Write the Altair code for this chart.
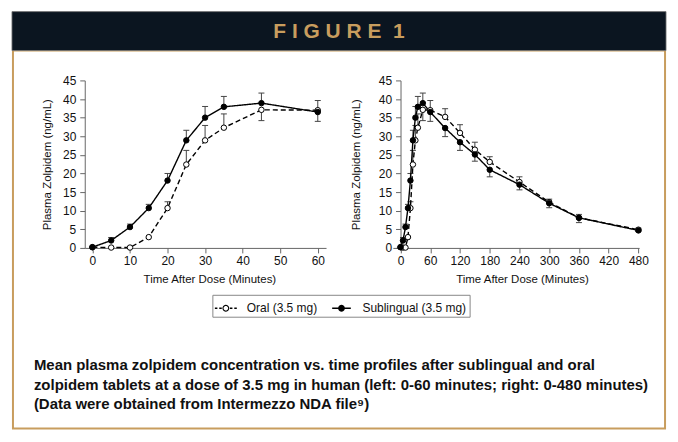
import math
import altair as alt
import pandas as pd

# ---------------- data ----------------
series_names = ["Oral (3.5 mg)", "Sublingual (3.5 mg)"]
times = [0, 5, 10, 15, 20, 25, 30, 35, 45, 60, 90, 120, 150, 180, 240, 300, 360, 480]
oral_mean = [0.2, 0.1, 0.1, 2.9, 10.7, 22.4, 28.9, 32.3, 37.1, 37.0, 35.2, 30.9, 26.4, 23.1, 17.7, 12.3, 8.1, 4.9]
oral_bar_end = [0.2, 0.1, 0.1, 2.9, 12.4, 26.2, 32.9, 36.0, 34.2, 34.0, 37.4, 33.1, 28.4, 24.5, 19.1, 13.1, 9.0, 5.3]
subl_mean = [0.2, 2.0, 5.6, 10.7, 18.1, 28.9, 35.0, 37.9, 38.9, 36.5, 32.2, 28.4, 25.1, 21.0, 17.0, 12.0, 8.1, 4.7]
subl_bar_end = [0.2, 2.8, 6.4, 11.7, 20.0, 31.6, 38.0, 40.7, 41.6, 39.6, 29.9, 26.2, 23.3, 19.1, 15.6, 10.8, 6.8, 4.4]

left_x_ticks = [0, 10, 20, 30, 40, 50, 60]
right_x_ticks = [0, 60, 120, 180, 240, 300, 360, 420, 480]
y_ticks = [0, 5, 10, 15, 20, 25, 30, 35, 40, 45]

x_title = "Time After Dose (Minutes)"
y_title = "Plasma Zolpidem (ng/mL)"
header_text = "F I G U R E \u00a01"
caption_lines = [
    "Mean plasma zolpidem concentration vs. time profiles after sublingual and oral",
    "zolpidem tablets at a dose of 3.5 mg in human (left: 0-60 minutes; right: 0-480 minutes)",
    "(Data were obtained from Intermezzo NDA file\u2079)",
]

rows = []
for name, means, ends in [(series_names[0], oral_mean, oral_bar_end),
                          (series_names[1], subl_mean, subl_bar_end)]:
    for t, m, e in zip(times, means, ends):
        rows.append({"series": name, "series_fill": name, "time": t, "conc": m, "bar_end": e})
df = pd.DataFrame(rows)
df_left = df[df["time"] <= 60].reset_index(drop=True)

# ---------------- styling ----------------
AX_FONT = "Liberation Sans"
CAP_FONT = "Liberation Sans"
GOLD = "#c89d5e"
NAVY = "#0b1520"
ERR = "#444444"


def f(v):
    return f"{v:.4f}"


def seg(a, b, h=0.06):
    return f"M{f(a)},{f(-h)}L{f(b)},{f(-h)}L{f(b)},{f(h)}L{f(a)},{f(h)}Z"


def polygon(r, n=20):
    pts = [(r * math.cos(2 * math.pi * k / n), r * math.sin(2 * math.pi * k / n)) for k in range(n)]
    return "M" + "L".join(f"{f(x)},{f(y)}" for x, y in pts) + "Z"


def ring(ro, ri, n=20):
    out = ""
    for k in range(n):
        a0 = 2 * math.pi * k / n
        a1 = 2 * math.pi * (k + 1) / n
        quad = [(ro * math.cos(a0), ro * math.sin(a0)), (ro * math.cos(a1), ro * math.sin(a1)),
                (ri * math.cos(a1), ri * math.sin(a1)), (ri * math.cos(a0), ri * math.sin(a0))]
        out += "M" + "L".join(f"{f(x)},{f(y)}" for x, y in quad) + "Z"
    return out


# legend symbols drawn as filled shapes: dashed line + ring / solid line + disc
OPEN_SYMBOL = (seg(-1, -0.77) + seg(-0.6, -0.37) + seg(0.37, 0.6) + seg(0.77, 1)
               + ring(0.31, 0.21))
FILLED_SYMBOL = seg(-0.85, -0.3) + seg(0.3, 0.85) + polygon(0.31)

legend = alt.Legend(
    orient="none", legendX=128, legendY=215, direction="horizontal", title=None,
    symbolSize=484, symbolStrokeWidth=0, symbolFillColor="black", symbolOpacity=1,
    labelFont=AX_FONT, labelFontSize=12, labelColor="#111", labelOffset=10,
    columnPadding=13, padding=2.5, strokeColor="#888888",
)
fill_scale = alt.Scale(range=["white", "black"])
shape_scale = alt.Scale(range=[OPEN_SYMBOL, FILLED_SYMBOL])


def build_panel(data, x_domain, x_ticks, width, y_offset, y_title_pad, x_title_x, extra_layers):
    xscale = alt.Scale(domain=x_domain, nice=False, zero=False)
    yscale = alt.Scale(domain=[0, 45], nice=False, zero=False)
    xaxis = alt.Axis(values=x_ticks, title=x_title, titleX=x_title_x, titlePadding=7,
                     labelPadding=3, tickSize=5, labelOverlap=False, labelFlush=False)
    yaxis = alt.Axis(values=y_ticks, title=y_title, offset=y_offset, titlePadding=y_title_pad,
                     labelPadding=4, tickSize=5, labelOverlap=False, labelFlush=False)
    X = alt.X("time:Q", scale=xscale, axis=xaxis)
    Yc = alt.Y("conc:Q", scale=yscale, axis=yaxis)
    base = alt.Chart(data)
    err = base.transform_filter("datum.bar_end != datum.conc")
    bars = err.mark_rule(color=ERR, strokeWidth=1).encode(x=X, y=Yc, y2="bar_end:Q")
    caps = err.mark_point(shape="M-1,0L1,0", size=36, filled=False, color=ERR,
                          strokeWidth=1, opacity=1).encode(
        x=X, y=alt.Y("bar_end:Q", scale=yscale, axis=yaxis))
    lines = base.mark_line(color="black", strokeWidth=1.4).encode(
        x=X, y=Yc,
        strokeDash=alt.StrokeDash("series:N", scale=alt.Scale(range=[[5, 3], [1, 0]]), legend=None))
    # invisible layer that only supplies the legend (line + marker symbols)
    legend_layer = base.mark_point(filled=True, color="black", opacity=0).encode(
        x=X, y=Yc,
        shape=alt.Shape("series:N", scale=shape_scale, legend=legend))
    pts = base.mark_point(filled=True, stroke="black", strokeWidth=1, size=30, opacity=1).encode(
        x=X, y=Yc, fill=alt.Fill("series_fill:N", scale=fill_scale, legend=None))
    return alt.layer(*extra_layers, bars, caps, lines, legend_layer, pts).properties(
        width=width, height=168)


one = pd.DataFrame({"t": [header_text], "cap": ["\n".join(caption_lines)]})
frame = alt.Chart(one).mark_rect(fillOpacity=0, stroke=GOLD, strokeWidth=2).encode(
    x=alt.value(-72), x2=alt.value(582), y=alt.value(-30), y2=alt.value(349))
header_bar = alt.Chart(one).mark_rect(color=NAVY, stroke="#777777", strokeWidth=0.8).encode(
    x=alt.value(-73), x2=alt.value(583), y=alt.value(-69), y2=alt.value(-30))
header = alt.Chart(one).mark_text(font=CAP_FONT, fontSize=21, fontWeight="bold", color=GOLD,
                                  align="center", baseline="middle").encode(
    x=alt.value(255), y=alt.value(-49), text="t:N")
caption = alt.Chart(one).mark_text(font=CAP_FONT, fontSize=15, fontWeight="bold", color="#111",
                                   align="left", baseline="alphabetic", lineBreak="\n",
                                   lineHeight=20).encode(
    x=alt.value(-51), y=alt.value(290), text="cap:N")

left = build_panel(df_left, [-2.04, 62.2], left_x_ticks, 242, 0, 10, 125,
                   [frame, header_bar, header, caption])
right = build_panel(df, [-15.5, 481.4], right_x_ticks, 247, -7.7, 17, 129.5, [])

chart = alt.hconcat(left, right, spacing=67, bounds="flush").properties(
    padding={"left": 11, "top": 10, "right": 11, "bottom": 13},
    background="white",
).configure_view(stroke=None).configure_axis(
    domainColor="#666666", tickColor="#666666", labelColor="#111111", titleColor="#111111",
    labelFont=AX_FONT, titleFont=AX_FONT, labelFontSize=12, titleFontSize=11.5,
    titleFontWeight="normal", grid=False,
)

chart.save("out.html", embed_options={"renderer": "svg", "actions": False})
